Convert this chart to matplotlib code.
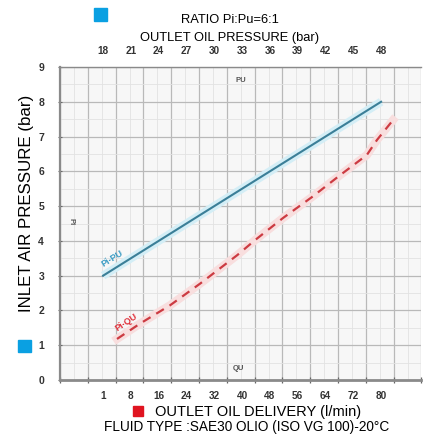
import numpy as np
import matplotlib.pyplot as plt
from matplotlib.patches import Rectangle

plt.rcParams['font.family'] = ['Liberation Sans', 'DejaVu Sans']

# --- data ---
pi_levels = [0, 1, 2, 3, 4, 5, 6, 7, 8, 9]
pu_labels = [18, 21, 24, 27, 30, 33, 36, 39, 42, 45, 48]
qu_labels = [1, 8, 16, 24, 32, 40, 48, 56, 64, 72, 80]

# Pi-PU (ratio 6:1) straight line
pu_line = [18, 48]
pi_pu_line = [3.0, 8.0]

# Pi-QU delivery curve (dashed)
qu_curve = [4.5, 10.6, 19.3, 27.9, 38.6, 43.7, 51.8, 60.1, 68.2, 75.9, 78.8, 83.4]
pi_qu_curve = [1.18, 1.62, 2.15, 2.77, 3.59, 4.02, 4.66, 5.26, 5.89, 6.47, 6.90, 7.47]

W, H = 425, 438


def px(x, y):
    # pixel position (from top-left) -> figure fraction
    return x / W, 1 - y / H


# grid columns: 13 columns, tick labels sit between grid lines
n_cols = 13
label_cols = np.arange(len(qu_labels)) + 1.55

q_ext = np.array([-300.0] + qu_labels + [400.0])
c_ext = np.concatenate([[1.55 - 301 / 7], label_cols, [label_cols[-1] + 320 / 8]])


def q_to_col(q):
    return np.interp(q, q_ext, c_ext)


def col_to_q(c):
    return np.interp(c, c_ext, q_ext)


fig = plt.figure(figsize=(W / 100, H / 100), dpi=100)
ax = fig.add_axes([60 / W, 58 / H, 27.8 * n_cols / W, 313 / H])
ax.set_facecolor('#f7f7f7')
ax.set_xlim(0, n_cols)
ax.set_ylim(0, 9)

ax.set_xticks(range(n_cols + 1))
ax.set_xticks(np.arange(0.5, n_cols, 1), minor=True)
ax.set_yticks(pi_levels)
ax.set_yticks(np.arange(0.5, 9, 1), minor=True)
ax.grid(which='major', color='#b9b9b9', lw=0.9)
ax.grid(which='minor', color='#e2e2e2', lw=0.6)
ax.set_axisbelow(True)

ax.tick_params(axis='x', which='major', direction='inout', length=5, width=0.9,
               color='#666', top=True, bottom=True, labelbottom=False)
ax.tick_params(axis='both', which='minor', length=0)
ax.tick_params(axis='y', which='major', direction='inout', length=3, color='#666',
               labelsize=7.5, labelcolor='#333', pad=10)
for lbl in ax.get_yticklabels():
    lbl.set_fontweight('bold')

for side in ['left', 'bottom', 'top']:
    ax.spines[side].set_color('#8a8a8a')
ax.spines['left'].set_linewidth(1.6)
ax.spines['bottom'].set_linewidth(2.0)
ax.spines['top'].set_linewidth(1.0)
ax.spines['right'].set_visible(False)

# bottom axis: outlet oil delivery (l/min)
ax_q = ax.twiny()
ax_q.set_xscale('function', functions=(q_to_col, col_to_q))
ax_q.set_xlim(col_to_q(0), col_to_q(n_cols))
ax_q.xaxis.set_ticks_position('bottom')
ax_q.set_xticks(qu_labels)
ax_q.set_xticklabels([str(v) for v in qu_labels])
ax_q.xaxis.set_minor_locator(plt.NullLocator())
ax_q.tick_params(axis='x', length=0, pad=8, labelsize=7.2, labelcolor='#333')
for lbl in ax_q.get_xticklabels():
    lbl.set_fontweight('bold')
for s in ax_q.spines.values():
    s.set_visible(False)

# top axis: outlet oil pressure (bar)
ax_pu = ax.twiny()
ax_pu.set_xlim(18 - 1.55 * 3, 18 + (n_cols - 1.55) * 3)
ax_pu.xaxis.set_ticks_position('top')
ax_pu.set_xticks(pu_labels)
ax_pu.set_xticklabels([str(v) for v in pu_labels])
ax_pu.xaxis.set_minor_locator(plt.NullLocator())
ax_pu.tick_params(axis='x', length=0, pad=8, labelsize=7.2, labelcolor='#333')
for lbl in ax_pu.get_xticklabels():
    lbl.set_fontweight('bold')
for s in ax_pu.spines.values():
    s.set_visible(False)

# curves, with the soft halo seen on the scan
ax_pu.plot(pu_line, pi_pu_line, color='#d4eef6', lw=6, solid_capstyle='butt')
ax_pu.plot(pu_line, pi_pu_line, color='#3b7f98', lw=1.5)
ax_q.plot(qu_curve, pi_qu_curve, color='#f8dede', lw=6)
ax_q.plot(qu_curve, pi_qu_curve, color='#cc3b42', lw=1.6, dashes=(4, 3))

# small in-plot labels
fig.text(*px(112, 259), 'Pi-PU', color='#3a9cc4', fontsize=6.5, fontweight='bold',
         rotation=32, ha='center', va='center')
fig.text(*px(126, 322), 'Pi-QU', color='#e0323c', fontsize=6.5, fontweight='bold',
         rotation=34, ha='center', va='center')
fig.text(*px(71, 222), 'Pi', color='#555', fontsize=5.5, fontweight='bold',
         rotation=270, ha='center', va='center')
fig.text(*px(241, 80), 'PU', color='#555', fontsize=5.5, fontweight='bold',
         ha='center', va='center')
fig.text(*px(238, 369), 'QU', color='#555', fontsize=5.5, fontweight='bold',
         ha='center', va='center')

# outer titles and legend squares
fig.text(*px(230, 20), 'RATIO Pi:Pu=6:1', fontsize=9.3, ha='center', va='center')
fig.text(*px(230, 38), 'OUTLET OIL PRESSURE (bar)', fontsize=9.3, ha='center', va='center')
fig.text(*px(27, 203), 'INLET AIR PRESSURE (bar)', fontsize=12.2, rotation=90,
         ha='center', va='center')
fig.text(*px(155, 412), 'OUTLET OIL DELIVERY (l/min)', fontsize=10.5, ha='left', va='center')
fig.text(*px(247, 427), 'FLUID TYPE :SAE30 OLIO (ISO VG 100)-20°C', fontsize=9.8,
         ha='center', va='center')

for (x0, y0, w, h, c) in [(94, 8, 13, 13, '#0aa0e2'), (18, 340, 13, 12, '#0aa0e2'),
                          (133, 406, 10, 10, '#e01420')]:
    fig.patches.append(Rectangle(px(x0, y0 + h), w / W, h / H, transform=fig.transFigure,
                                 color=c, zorder=5))

fig.savefig('out.png', dpi=100)
